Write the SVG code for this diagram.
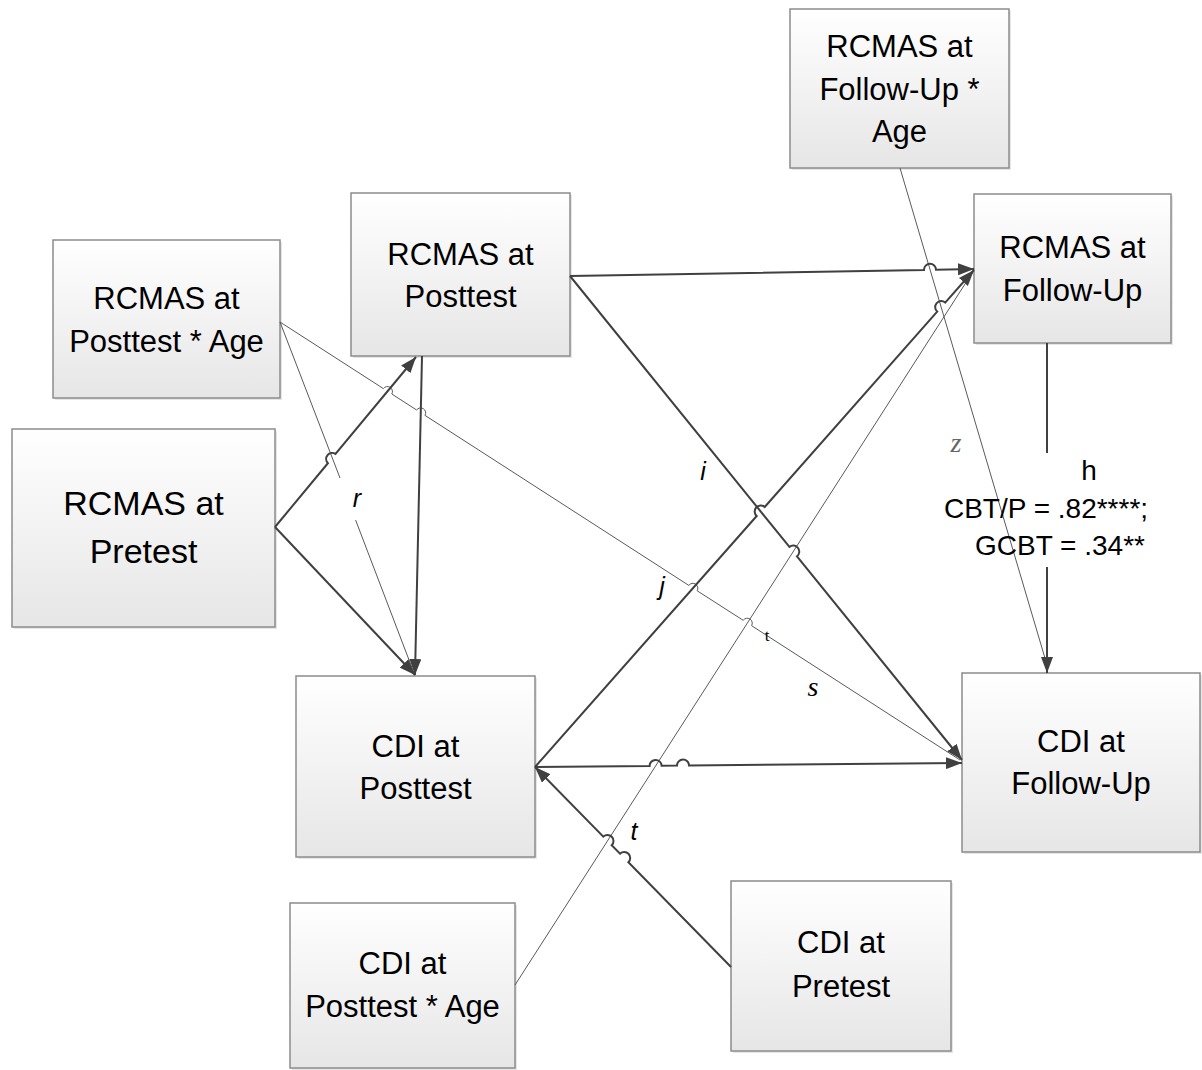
<svg xmlns="http://www.w3.org/2000/svg" width="1202" height="1070" viewBox="0 0 1202 1070">
  <defs>
    <linearGradient id="boxFill" x1="0" y1="0" x2="0" y2="1">
      <stop offset="0" stop-color="#ffffff"/>
      <stop offset="1" stop-color="#e6e6e6"/>
    </linearGradient>
    <marker id="arrow" viewBox="0 0 16 12" refX="16" refY="6" markerWidth="16" markerHeight="12" markerUnits="userSpaceOnUse" orient="auto">
      <path d="M0,0 L16,6 L0,12 z" fill="#404040"/>
    </marker>
    <style>
      .box { fill: url(#boxFill); stroke: #8c8c8c; stroke-width: 1.5; }
      .shadow { fill: #e6e6e6; }
      .label { font-family: "Liberation Sans", Arial, sans-serif; font-size: 31px; fill: #000; text-anchor: middle; }
      .big { font-size: 34px; }
      .thick { fill: none; stroke: #404040; stroke-width: 2; }
      .thin { fill: none; stroke: #5a5a5a; stroke-width: 1; }
      .path-it { font-family: "Liberation Sans", Arial, sans-serif; font-style: italic; font-size: 25px; fill: #000; text-anchor: middle; }
      .path-serif { font-family: "Liberation Serif", "Times New Roman", serif; font-style: italic; font-size: 28px; text-anchor: middle; }
      .coef { font-family: "Liberation Sans", Arial, sans-serif; font-size: 28px; fill: #000; text-anchor: middle; }
    </style>
  </defs>

  <!-- nodes -->
  <g id="rcmas-followup-age">
    <rect class="shadow" x="792" y="11" width="219" height="159"/>
    <rect class="box" x="790" y="9" width="219" height="159"/>
    <text class="label" x="899.5" y="57">RCMAS at</text>
    <text class="label" x="899.5" y="100">Follow-Up *</text>
    <text class="label" x="899.5" y="142">Age</text>
  </g>
  <g id="rcmas-followup">
    <rect class="shadow" x="976" y="196" width="197" height="149"/>
    <rect class="box" x="974" y="194" width="197" height="149"/>
    <text class="label" x="1072.5" y="258">RCMAS at</text>
    <text class="label" x="1072.5" y="301">Follow-Up</text>
  </g>
  <g id="rcmas-posttest">
    <rect class="shadow" x="353" y="195" width="219" height="163"/>
    <rect class="box" x="351" y="193" width="219" height="163"/>
    <text class="label" x="460.5" y="265">RCMAS at</text>
    <text class="label" x="460.5" y="307">Posttest</text>
  </g>
  <g id="rcmas-posttest-age">
    <rect class="shadow" x="55" y="242" width="227" height="158"/>
    <rect class="box" x="53" y="240" width="227" height="158"/>
    <text class="label" x="166.5" y="309">RCMAS at</text>
    <text class="label" x="166.5" y="352">Posttest * Age</text>
  </g>
  <g id="rcmas-pretest">
    <rect class="shadow" x="14" y="431" width="263" height="198"/>
    <rect class="box" x="12" y="429" width="263" height="198"/>
    <text class="label big" x="143.5" y="515">RCMAS at</text>
    <text class="label big" x="143.5" y="563">Pretest</text>
  </g>
  <g id="cdi-posttest">
    <rect class="shadow" x="298" y="678" width="239" height="181"/>
    <rect class="box" x="296" y="676" width="239" height="181"/>
    <text class="label" x="415.5" y="757">CDI at</text>
    <text class="label" x="415.5" y="799">Posttest</text>
  </g>
  <g id="cdi-followup">
    <rect class="shadow" x="964" y="675" width="238" height="179"/>
    <rect class="box" x="962" y="673" width="238" height="179"/>
    <text class="label" x="1081" y="752">CDI at</text>
    <text class="label" x="1081" y="794">Follow-Up</text>
  </g>
  <g id="cdi-posttest-age">
    <rect class="shadow" x="292" y="905" width="225" height="165"/>
    <rect class="box" x="290" y="903" width="225" height="165"/>
    <text class="label" x="402.5" y="974">CDI at</text>
    <text class="label" x="402.5" y="1017">Posttest * Age</text>
  </g>
  <g id="cdi-pretest">
    <rect class="shadow" x="733" y="883" width="220" height="170"/>
    <rect class="box" x="731" y="881" width="220" height="170"/>
    <text class="label" x="841" y="953">CDI at</text>
    <text class="label" x="841" y="997">Pretest</text>
  </g>

  <!-- connectors (line hops drawn as small arcs) -->
  <g id="connectors">
    <!-- interaction paths (thin) -->
    <path class="thin" d="M280,322 L340,478 M355.6,520 L414,673"/>
    <path class="thin" d="M280,322 L383.4,388.6 A5 5 0 0 1 391.8,394 L416.6,410 A5 5 0 0 1 425,415.4 L688.8,585.4 A5 5 0 0 1 697.2,590.8 L743.2,620.3 A5 5 0 0 1 751.6,625.7 L960,760"/>
    <path class="thin" d="M900,168 L1047,665"/>
    <path class="thin" d="M515,985 L974,270"/>

    <!-- main paths (thick) -->
    <path class="thick" d="M275,527 L327.9,463.2 A6 6 0 0 1 335.5,454 L416,357" marker-end="url(#arrow)"/>
    <path class="thick" d="M275,527 L415,675" marker-end="url(#arrow)"/>
    <path class="thick" d="M422,356 L415,675" marker-end="url(#arrow)"/>
    <path class="thick" d="M570,276 L924,269.9 A6 6 0 0 1 936,269.7 L974,269" marker-end="url(#arrow)"/>
    <path class="thick" d="M570,276 L789.4,546.9 A6 6 0 0 1 797,556.3 L962,760" marker-end="url(#arrow)"/>
    <path class="thick" d="M535,767 L756.7,516 A6 6 0 0 1 764.7,507 L937.2,311.6 A6 6 0 0 1 945.2,302.6 L974,270" marker-end="url(#arrow)"/>
    <path class="thick" d="M535,767 L649.6,766 A6 6 0 0 1 661.6,765.8 L677,765.6 A6 6 0 0 1 689,765.5 L962,763" marker-end="url(#arrow)"/>
    <path class="thick" d="M731,967 L628.4,862.3 A6 6 0 0 0 620,853.7 L611.7,845.2 A6 6 0 0 0 603.3,836.6 L535,767" marker-end="url(#arrow)"/>
    <path class="thick" d="M1047,343 L1047,453"/>
    <path class="thick" d="M1047,567 L1047,673" marker-end="url(#arrow)"/>
  </g>

  <!-- path labels -->
  <g id="path-labels">
    <text class="path-it" x="357" y="507">r</text>
    <text class="path-it" x="703" y="480">i</text>
    <text class="path-it" x="662" y="595">j</text>
    <text class="path-it" x="634" y="840">t</text>
    <text class="path-serif" x="956" y="452" fill="#666">z</text>
    <text class="path-serif" x="813" y="696" fill="#000">s</text>
    <text x="767" y="641" font-family="Liberation Serif, 'Times New Roman', serif" font-size="17" text-anchor="middle">t</text>
    <text class="coef" x="1089" y="480">h</text>
    <text class="coef" x="1046" y="518">CBT/P = .82****;</text>
    <text class="coef" x="1060" y="555">GCBT = .34**</text>
  </g>
</svg>
